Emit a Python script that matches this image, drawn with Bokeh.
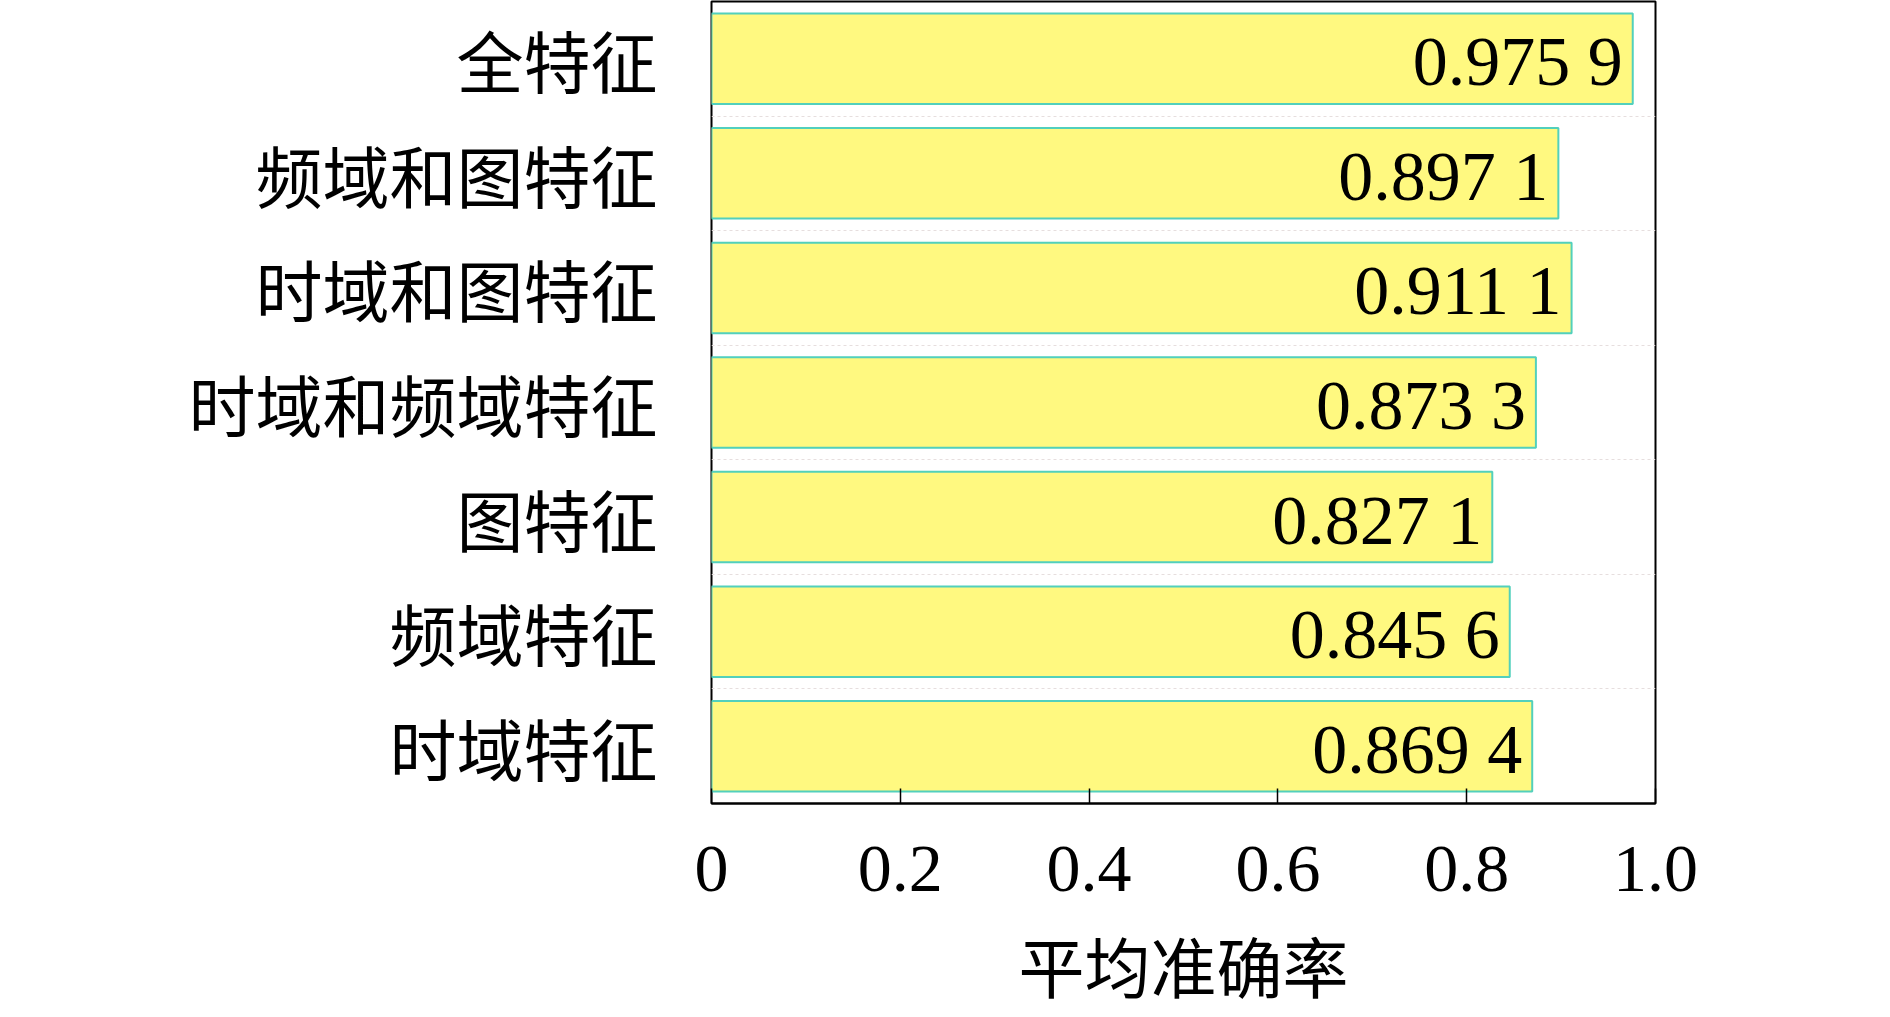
from bokeh.plotting import figure
from bokeh.models import ColumnDataSource, FixedTicker, Range1d
from bokeh.embed import file_html
from bokeh.resources import INLINE
from bokeh.core.properties import value

categories = ["时域特征", "频域特征", "图特征", "时域和频域特征", "时域和图特征", "频域和图特征", "全特征"]
accuracy = [0.8694, 0.8456, 0.8271, 0.8733, 0.9111, 0.8971, 0.9759]
value_labels = ["0.869 4", "0.845 6", "0.827 1", "0.873 3", "0.911 1", "0.897 1", "0.975 9"]
x_ticks = [0, 0.2, 0.4, 0.6, 0.8, 1.0]
x_tick_labels = ["0", "0.2", "0.4", "0.6", "0.8", "1.0"]
x_title = "平均准确率"

pos = list(range(len(categories)))
src = ColumnDataSource(dict(y=pos, acc=accuracy, lab=value_labels))

W, H = 1870, 1017
p = figure(width=W, height=H, output_backend="svg", toolbar_location=None,
           x_range=Range1d(0, 1.0), y_range=Range1d(-0.5, len(categories) - 0.5),
           min_border_left=711, min_border_right=W - 1655,
           min_border_top=1, min_border_bottom=H - 803)

p.hbar(y="y", right="acc", left=0, height=0.79, source=src,
       fill_color="#fff980", line_color="#52d0bc", line_width=2)

p.text(x="acc", y="y", text="lab", source=src, x_offset=-10, y_offset=3,
       text_align="right", text_baseline="middle",
       text_font=value("Liberation Serif"), text_font_size="70px", text_color="black")

# x axis
p.xaxis.ticker = FixedTicker(ticks=x_ticks)
p.xaxis.major_label_overrides = {t: l for t, l in zip(x_ticks, x_tick_labels)}
p.xaxis.major_tick_in = 15
p.xaxis.major_tick_out = 0
p.xaxis.minor_tick_line_color = None
p.xaxis.axis_line_color = "black"
p.xaxis.axis_line_width = 2
p.xaxis.major_tick_line_width = 1.5
p.xaxis.major_label_text_font = "Liberation Serif"
p.xaxis.major_label_text_font_size = "68px"
p.xaxis.major_label_text_color = "black"
p.xaxis.major_label_standoff = 43
p.xaxis.axis_label = x_title
p.xaxis.axis_label_text_font = "Noto Sans CJK SC"
p.xaxis.axis_label_text_font_style = "normal"
p.xaxis.axis_label_text_font_size = "66px"
p.xaxis.axis_label_text_color = "black"
p.xaxis.axis_label_standoff = 22

# y axis
p.yaxis.ticker = FixedTicker(ticks=pos)
p.yaxis.major_label_overrides = {i: c for i, c in zip(pos, categories)}
p.yaxis.major_tick_line_color = None
p.yaxis.minor_tick_line_color = None
p.yaxis.axis_line_color = None
p.yaxis.major_label_text_font = "Noto Sans CJK SC"
p.yaxis.major_label_text_font_size = "67px"
p.yaxis.major_label_text_color = "black"
p.yaxis.major_label_standoff = 48

p.xgrid.grid_line_color = None
p.ygrid.ticker = FixedTicker(ticks=[i + 0.5 for i in pos[:-1]])
p.ygrid.grid_line_color = "#e6dede"
p.ygrid.grid_line_dash = "3 3"
p.ygrid.grid_line_width = 1

p.outline_line_color = "black"
p.outline_line_width = 2
p.outline_line_alpha = 1

open("out.html", "w").write(file_html(p, INLINE))
